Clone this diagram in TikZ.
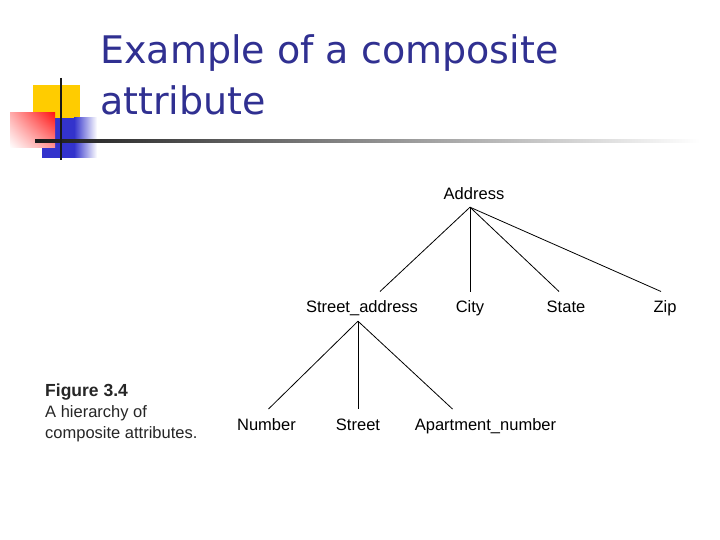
\documentclass[tikz,border=0pt]{standalone}
\usepackage{fontspec}
\usetikzlibrary{shadings}
\setmainfont{Liberation Sans}
\newfontfamily\titlefont{DejaVu Sans}
\definecolor{titleblue}{RGB}{48,48,145}
\definecolor{logoyellow}{RGB}{255,204,0}
\definecolor{logoblue}{RGB}{51,51,204}
\definecolor{logored}{RGB}{255,20,20}
\begin{document}
\begin{tikzpicture}[x=1pt,y=-1pt,
  lbl/.style={font=\fontsize{16.5}{19}\selectfont, text height=11.5pt, text depth=3.5pt, inner sep=0pt, anchor=base},
  capt/.style={font=\fontsize{16.5}{20}\selectfont, inner sep=0pt, anchor=base west, text=black!85},
  edge/.style={line width=0.8pt, black}]
\useasboundingbox (0,0) rectangle (720,540);
\fill[white] (0,0) rectangle (720,540);

% logo
\fill[logoyellow] (33,85) rectangle (80,128);
\fill[logoblue] (42,118) rectangle (74,158);
\shade[left color=logoblue, right color=white] (74,118) rectangle (97,158);
\shade[upper right=logored, upper left=logored!35!white, lower right=logored!45!white, lower left=white] (10,113) rectangle (55,148);
\shade[left color=black!90, right color=white] (35,139.5) rectangle (700,142.5);
\draw[line width=2.5pt, black!90] (61,78) -- (61,160);

% title
\node[anchor=base west, inner sep=0pt, text=titleblue, font=\titlefont\fontsize{38}{51}\selectfont] (title1) at (100,63.5) {Example of a composite};
\node[anchor=base west, inner sep=0pt, text=titleblue, font=\titlefont\fontsize{38}{51}\selectfont] (title2) at (100,114.5) {attribute};

% tree
\node[lbl] (addr) at (474,200) {Address};
\node[lbl] (sa) at (362,312) {Street\_address};
\node[lbl] (city) at (470,312) {City};
\node[lbl] (state) at (566,312) {State};
\node[lbl] (zip) at (665,312) {Zip};
\node[lbl] (num) at (266.5,430.7) {Number};
\node[lbl] (street) at (358,430.7) {Street};
\node[lbl] (apt) at (485.5,430.7) {Apartment\_number};

\draw[edge] ([shift={(-4,3.5)}]addr.south) -- ([shift={(18,-8.8)}]sa.north);
\draw[edge] ([shift={(-4,3.5)}]addr.south) -- ([shift={(0,-8.8)}]city.north);
\draw[edge] ([shift={(-4,3.5)}]addr.south) -- ([shift={(-7,-8.8)}]state.north);
\draw[edge] ([shift={(-4,3.5)}]addr.south) -- ([shift={(-4,-8.8)}]zip.north);
\draw[edge] ([shift={(-4,5.5)}]sa.south) -- ([shift={(2,-10)}]num.north);
\draw[edge] ([shift={(-4,5.5)}]sa.south) -- ([shift={(0,-10)}]street.north);
\draw[edge] ([shift={(-4,5.5)}]sa.south) -- ([shift={(-33,-10)}]apt.north);

% caption
\node[capt, font=\fontsize{17.5}{20}\selectfont\bfseries] (fig) at (45,396) {Figure 3.4};
\node[capt] (cap1) at (45,417) {A hierarchy of};
\node[capt] (cap2) at (45,438) {composite attributes.};
\end{tikzpicture}
\end{document}
